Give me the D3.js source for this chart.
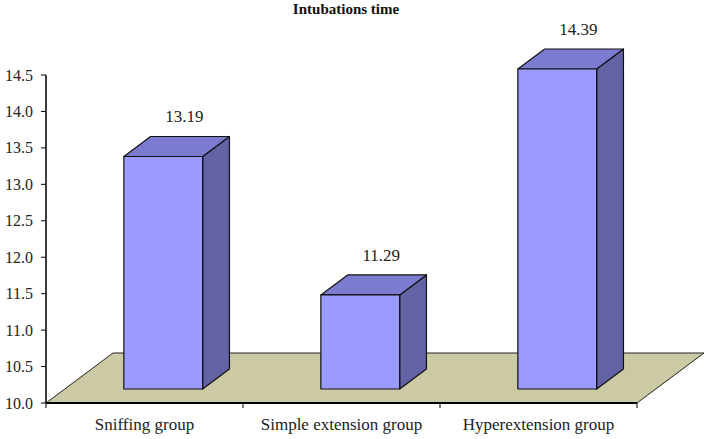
<!DOCTYPE html>
<html>
<head>
<meta charset="utf-8">
<script src="https://cdn.jsdelivr.net/npm/d3@7"></script>
<style>
  body { margin: 0; background: #fff; }
  svg { display: block; }
</style>
</head>
<body>
<svg id="chart"></svg>
<script>
// data
const categories = ["Sniffing group", "Simple extension group", "Hyperextension group"];
const values = [13.19, 11.29, 14.39];
const yTicks = [10.0, 10.5, 11.0, 11.5, 12.0, 12.5, 13.0, 13.5, 14.0, 14.5];
const title = "Intubations time";

const W = 708, H = 439;
const FONT = "'Liberation Serif', 'Times New Roman', serif";
const svg = d3.select("#chart").attr("width", W).attr("height", H)
    .attr("font-family", FONT);

const plot = {left: 46, right: 637, top: 75, bottom: 403};
const depth = {dx: 67, dy: -50}; // floor depth vector
const d0 = 0.28, d1 = 0.68;       // bar position inside depth

const x = d3.scaleBand().domain(categories).range([plot.left, plot.right]);
const y = d3.scaleLinear().domain([10, 14.5]).range([plot.bottom, plot.top]);

// project a front-plane point back by fraction d of the depth
const P = (px, py, d) => [px + d * depth.dx, py + d * depth.dy];

// floor
const floorPts = [P(plot.left, plot.bottom, 0), P(plot.right, plot.bottom, 0),
                  P(plot.right, plot.bottom, 1), P(plot.left, plot.bottom, 1)];
svg.append("polygon")
    .attr("points", floorPts.map(p => p.join(",")).join(" "))
    .attr("fill", "#cbcaa4")
    .attr("stroke", "#222")
    .attr("stroke-width", 1);

// bars
const barW = x.bandwidth() * 0.4;
const bars = svg.append("g");
categories.forEach((c, i) => {
    const v = values[i];
    const x0 = x(c) + (x.bandwidth() - barW) / 2, x1 = x0 + barW;
    const yt = y(v), yb = y(10);
    const ftl = P(x0, yt, d0), ftr = P(x1, yt, d0), fbr = P(x1, yb, d0), fbl = P(x0, yb, d0);
    const btl = P(x0, yt, d1), btr = P(x1, yt, d1), bbr = P(x1, yb, d1);
    const poly = (pts, fill) => bars.append("polygon")
        .attr("points", pts.map(p => p.join(",")).join(" "))
        .attr("fill", fill)
        .attr("stroke", "#111")
        .attr("stroke-width", 1.2)
        .attr("stroke-linejoin", "round");
    poly([ftr, btr, bbr, fbr], "#6262a4");
    poly([ftl, ftr, btr, btl], "#7b7bd0");
    poly([ftl, ftr, fbr, fbl], "#9b9bff");

    bars.append("text")
        .attr("x", (ftl[0] + ftr[0]) / 2 + 21)
        .attr("y", btl[1] - 14)
        .attr("text-anchor", "middle")
        .attr("fill", "#222")
        .style("font-size", "17px")
        .text(v.toFixed(2));
});

// y axis
const yAxis = svg.append("g");
yAxis.append("line").attr("x1", plot.left).attr("x2", plot.left).attr("y1", plot.top).attr("y2", plot.bottom)
    .attr("stroke", "#000").attr("stroke-width", 1.5);
yTicks.forEach(t => {
    yAxis.append("line").attr("x1", plot.left - 5).attr("x2", plot.left).attr("y1", y(t)).attr("y2", y(t))
        .attr("stroke", "#000");
    yAxis.append("text")
        .attr("x", 33).attr("y", y(t)).attr("dy", "0.35em")
        .attr("text-anchor", "end")
        .attr("fill", "#222")
        .style("font-size", "16px")
        .text(t.toFixed(1));
});

// x axis
const xAxis = svg.append("g");
xAxis.append("line").attr("x1", plot.left).attr("x2", plot.right).attr("y1", plot.bottom).attr("y2", plot.bottom)
    .attr("stroke", "#000").attr("stroke-width", 2);
categories.concat([null]).forEach(c => {
    const tx = c === null ? plot.right : x(c);
    xAxis.append("line").attr("x1", tx).attr("x2", tx).attr("y1", plot.bottom).attr("y2", plot.bottom + 5)
        .attr("stroke", "#000");
});
categories.forEach(c => {
    xAxis.append("text")
        .attr("x", x(c) + x.bandwidth() / 2)
        .attr("y", 430)
        .attr("text-anchor", "middle")
        .attr("fill", "#222")
        .style("font-size", "17px")
        .text(c);
});

// title
svg.append("text")
    .attr("x", 346).attr("y", 14)
    .attr("text-anchor", "middle")
    .attr("fill", "#111")
    .style("font-size", "15px")
    .style("font-weight", "bold")
    .text(title);
</script>
</body>
</html>
